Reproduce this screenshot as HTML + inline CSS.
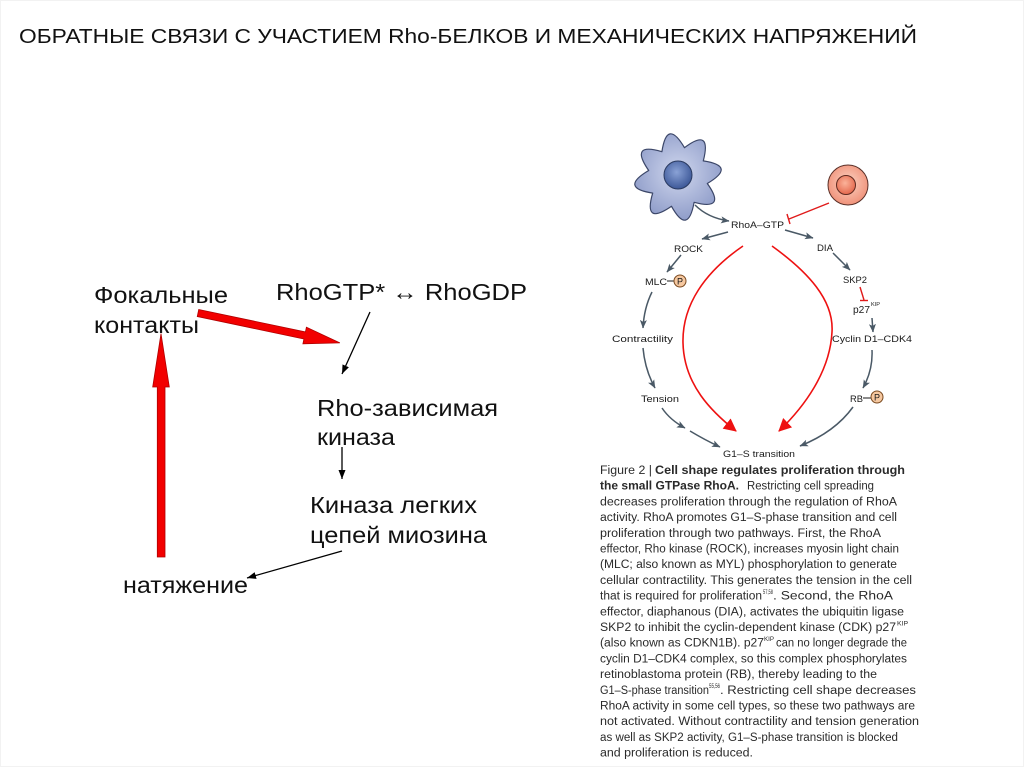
<!DOCTYPE html>
<html><head><meta charset="utf-8"><style>
html,body{margin:0;padding:0;background:#fff;}
svg{display:block;}
.t{font-family:"Liberation Sans",Arial,sans-serif;}
</style></head><body>
<svg width="1024" height="767" viewBox="0 0 1024 767" xmlns="http://www.w3.org/2000/svg">
<defs>
<marker id="sl" markerUnits="userSpaceOnUse" markerWidth="9" markerHeight="8" refX="8" refY="4" orient="auto"><path d="M0,0.5 L8.5,4 L0,7.5 L2,4 z" fill="#4a5966"/></marker>
<marker id="rd" markerUnits="userSpaceOnUse" markerWidth="14" markerHeight="13" refX="12" refY="6.5" orient="auto"><path d="M0,0 L13,6.5 L0,13 z" fill="#ee1111"/></marker>
<marker id="bk" markerUnits="userSpaceOnUse" markerWidth="10" markerHeight="8" refX="9" refY="4" orient="auto"><path d="M0,0.5 L9,4 L0,7.5 z" fill="#000"/></marker>
<radialGradient id="gstar" cx="50%" cy="45%" r="60%"><stop offset="0" stop-color="#d0d7ee"/><stop offset="1" stop-color="#8a98c6"/></radialGradient>
<radialGradient id="gnuc" cx="45%" cy="40%" r="60%"><stop offset="0" stop-color="#8aa2d6"/><stop offset="1" stop-color="#3d5898"/></radialGradient>
<radialGradient id="gred" cx="50%" cy="45%" r="60%"><stop offset="0" stop-color="#fbd3c3"/><stop offset="1" stop-color="#ef8c73"/></radialGradient>
<radialGradient id="gred2" cx="45%" cy="40%" r="60%"><stop offset="0" stop-color="#fbb39a"/><stop offset="1" stop-color="#e4684d"/></radialGradient>
</defs>
<rect x="0.5" y="0.5" width="1023" height="766" fill="#fff" stroke="#f2f2f2"/>

<!-- Title (condensed look) -->
<text class="t" transform="translate(19,43) scale(1,0.84)" x="0" y="0" font-size="24" fill="#111" textLength="898" lengthAdjust="spacingAndGlyphs">ОБРАТНЫЕ СВЯЗИ С УЧАСТИЕМ Rho-БЕЛКОВ И МЕХАНИЧЕСКИХ НАПРЯЖЕНИЙ</text>

<!-- Left diagram texts -->
<g class="t" font-size="23" fill="#111">
<text x="94" y="303" textLength="134" lengthAdjust="spacingAndGlyphs">Фокальные</text>
<text x="94" y="333" textLength="105" lengthAdjust="spacingAndGlyphs">контакты</text>
<text x="276" y="300" textLength="251" lengthAdjust="spacingAndGlyphs">RhoGTP* ↔ RhoGDP</text>
<text x="317" y="416" textLength="181" lengthAdjust="spacingAndGlyphs">Rho-зависимая</text>
<text x="317" y="445" textLength="78" lengthAdjust="spacingAndGlyphs">киназа</text>
<text x="310" y="513" textLength="167" lengthAdjust="spacingAndGlyphs">Киназа легких</text>
<text x="310" y="543" textLength="177" lengthAdjust="spacingAndGlyphs">цепей миозина</text>
<text x="123" y="593" textLength="125" lengthAdjust="spacingAndGlyphs">натяжение</text>
</g>

<!-- Red arrows left -->
<g transform="translate(198,313) rotate(11.9)">
<polygon points="0,-3.6 109,-3.6 109,-8.5 145,0 109,8.5 109,3.6 0,3.6" fill="#f20000" stroke="#b00000" stroke-width="0.8"/>
</g>
<polygon points="157.3,557 157.3,387 152.7,387 161,333.5 169.3,387 165,387 165,557" fill="#f20000" stroke="#b00000" stroke-width="0.8"/>

<!-- Black thin arrows -->
<line x1="370" y1="312" x2="342" y2="374" stroke="#000" stroke-width="1.3" marker-end="url(#bk)"/>
<line x1="342" y1="447" x2="342" y2="479" stroke="#000" stroke-width="1.3" marker-end="url(#bk)"/>
<line x1="342" y1="551" x2="247" y2="578" stroke="#000" stroke-width="1.3" marker-end="url(#bk)"/>

<!-- Right figure: cells -->
<path d="M661.9,151.7 Q667,118 684.5,147.7 Q712,127 703.3,160.9 Q737,166 707.3,183.5 Q727,211 694.1,202.3 Q688,236 671.5,206.3 Q643,226 652.7,193.1 Q619,188 648.7,170.5 Q629,142 661.9,151.7 Z" fill="url(#gstar)" stroke="#3b4668" stroke-width="1.2" stroke-linejoin="round"/>
<circle cx="678" cy="175" r="14" fill="url(#gnuc)" stroke="#2a3a60" stroke-width="1"/>
<circle cx="848" cy="185" r="20" fill="url(#gred)" stroke="#5a3028" stroke-width="1"/>
<circle cx="846" cy="185" r="9.5" fill="url(#gred2)" stroke="#602a20" stroke-width="1"/>

<!-- slate arrows -->
<g fill="none" stroke="#4a5966" stroke-width="1.5">
<path d="M695,205 Q708,218 729,221" marker-end="url(#sl)"/>
<path d="M728,232 L702,239" marker-end="url(#sl)"/>
<path d="M785,230 L813,238" marker-end="url(#sl)"/>
<path d="M681,255 L667,272" marker-end="url(#sl)"/>
<path d="M833,253 L850,270" marker-end="url(#sl)"/>
<path d="M872,318 L873,332" marker-end="url(#sl)"/>
<path d="M652,292 Q644,308 643,328" marker-end="url(#sl)"/>
<path d="M643,348 Q645,370 655,388" marker-end="url(#sl)"/>
<path d="M662,408 Q670,420 685,428" marker-end="url(#sl)"/>
<path d="M690,431 Q705,440 720,447" marker-end="url(#sl)"/>
<path d="M872,350 Q873,370 863,388" marker-end="url(#sl)"/>
<path d="M853,407 Q835,432 800,446" marker-end="url(#sl)"/>
</g>

<!-- red inhibition lines -->
<g stroke="#e01a1a" stroke-width="1.4" fill="none">
<path d="M829,203 L789,219"/>
<path d="M787,214 L790,224"/>
<path d="M860,287 L864,300"/>
<path d="M860,300.5 L868,300.5"/>
</g>

<!-- red big curves -->
<g stroke="#ee1111" stroke-width="1.6" fill="none">
<path d="M743,246 C705,272 682,305 683,343 C684,385 712,412 736,431" marker-end="url(#rd)"/>
<path d="M772,246 C808,272 834,300 832,332 C830,372 804,407 779,431" marker-end="url(#rd)"/>
</g>

<!-- right labels -->
<g class="t" font-size="9.5" fill="#1a1a1a">
<text x="731" y="228" textLength="53" lengthAdjust="spacingAndGlyphs">RhoA–GTP</text>
<text x="674" y="252" textLength="29" lengthAdjust="spacingAndGlyphs">ROCK</text>
<text x="817" y="251" textLength="16" lengthAdjust="spacingAndGlyphs">DIA</text>
<text x="645" y="285" textLength="22" lengthAdjust="spacingAndGlyphs">MLC</text>
<text x="843" y="283" textLength="24" lengthAdjust="spacingAndGlyphs">SKP2</text>
<text x="853" y="313" font-size="10.5" textLength="17" lengthAdjust="spacingAndGlyphs">p27</text>
<text x="871" y="306" font-size="5.5" textLength="9" lengthAdjust="spacingAndGlyphs">KIP</text>
<text x="832" y="342" textLength="80" lengthAdjust="spacingAndGlyphs">Cyclin D1–CDK4</text>
<text x="612" y="342" textLength="61" lengthAdjust="spacingAndGlyphs">Contractility</text>
<text x="641" y="402" textLength="38" lengthAdjust="spacingAndGlyphs">Tension</text>
<text x="850" y="402" textLength="13" lengthAdjust="spacingAndGlyphs">RB</text>
<text x="723" y="457" textLength="72" lengthAdjust="spacingAndGlyphs">G1–S transition</text>
</g>
<line x1="667" y1="281" x2="674" y2="281" stroke="#1a1a1a" stroke-width="1"/>
<circle cx="680" cy="281" r="6" fill="#f6c8a0" stroke="#7a4a20" stroke-width="1"/>
<text class="t" x="680" y="284.5" font-size="9" text-anchor="middle" fill="#1a1a1a">P</text>
<line x1="863" y1="398" x2="871" y2="398" stroke="#1a1a1a" stroke-width="1"/>
<circle cx="877" cy="397" r="6" fill="#f6c8a0" stroke="#7a4a20" stroke-width="1"/>
<text class="t" x="877" y="400.5" font-size="9" text-anchor="middle" fill="#1a1a1a">P</text>

<!-- caption -->
<g class="t" font-size="11.5" fill="#2a2a2a">
<text x="600" y="474" textLength="52" lengthAdjust="spacingAndGlyphs">Figure 2 |</text>
<text x="655" y="474" font-weight="bold" textLength="250" lengthAdjust="spacingAndGlyphs">Cell shape regulates proliferation through</text>
<text x="600" y="489.7" font-weight="bold" textLength="139" lengthAdjust="spacingAndGlyphs">the small GTPase RhoA.</text>
<text x="747" y="489.7" textLength="127" lengthAdjust="spacingAndGlyphs">Restricting cell spreading</text>
<text x="600" y="505.4" textLength="297" lengthAdjust="spacingAndGlyphs">decreases proliferation through the regulation of RhoA</text>
<text x="600" y="521.1" textLength="297" lengthAdjust="spacingAndGlyphs">activity. RhoA promotes G1–S-phase transition and cell</text>
<text x="600" y="536.8" textLength="281" lengthAdjust="spacingAndGlyphs">proliferation through two pathways. First, the RhoA</text>
<text x="600" y="552.5" textLength="299" lengthAdjust="spacingAndGlyphs">effector, Rho kinase (ROCK), increases myosin light chain</text>
<text x="600" y="568.2" textLength="297" lengthAdjust="spacingAndGlyphs">(MLC; also known as MYL) phosphorylation to generate</text>
<text x="600" y="583.9" textLength="312" lengthAdjust="spacingAndGlyphs">cellular contractility. This generates the tension in the cell</text>
<text x="600" y="599.6" textLength="162" lengthAdjust="spacingAndGlyphs">that is required for proliferation</text>
<text x="763" y="594" font-size="6" textLength="10" lengthAdjust="spacingAndGlyphs">57,58</text>
<text x="773" y="599.6" textLength="120" lengthAdjust="spacingAndGlyphs">. Second, the RhoA</text>
<text x="600" y="615.3" textLength="304" lengthAdjust="spacingAndGlyphs">effector, diaphanous (DIA), activates the ubiquitin ligase</text>
<text x="600" y="631" textLength="296" lengthAdjust="spacingAndGlyphs">SKP2 to inhibit the cyclin-dependent kinase (CDK) p27</text>
<text x="897" y="625.5" font-size="6" textLength="11" lengthAdjust="spacingAndGlyphs">KIP</text>
<text x="600" y="646.7" textLength="164" lengthAdjust="spacingAndGlyphs">(also known as CDKN1B). p27</text>
<text x="764" y="641.2" font-size="6" textLength="10" lengthAdjust="spacingAndGlyphs">KIP</text>
<text x="776" y="646.7" textLength="131" lengthAdjust="spacingAndGlyphs">can no longer degrade the</text>
<text x="600" y="662.4" textLength="307" lengthAdjust="spacingAndGlyphs">cyclin D1–CDK4 complex, so this complex phosphorylates</text>
<text x="600" y="678.1" textLength="277" lengthAdjust="spacingAndGlyphs">retinoblastoma protein (RB), thereby leading to the</text>
<text x="600" y="693.8" textLength="109" lengthAdjust="spacingAndGlyphs">G1–S-phase transition</text>
<text x="709" y="688.2" font-size="6" textLength="11" lengthAdjust="spacingAndGlyphs">55,56</text>
<text x="720" y="693.8" textLength="196" lengthAdjust="spacingAndGlyphs">. Restricting cell shape decreases</text>
<text x="600" y="709.5" textLength="315" lengthAdjust="spacingAndGlyphs">RhoA activity in some cell types, so these two pathways are</text>
<text x="600" y="725.2" textLength="319" lengthAdjust="spacingAndGlyphs">not activated. Without contractility and tension generation</text>
<text x="600" y="740.9" textLength="298" lengthAdjust="spacingAndGlyphs">as well as SKP2 activity, G1–S-phase transition is blocked</text>
<text x="600" y="756.6" textLength="153" lengthAdjust="spacingAndGlyphs">and proliferation is reduced.</text>
</g>
</svg>
</body></html>
